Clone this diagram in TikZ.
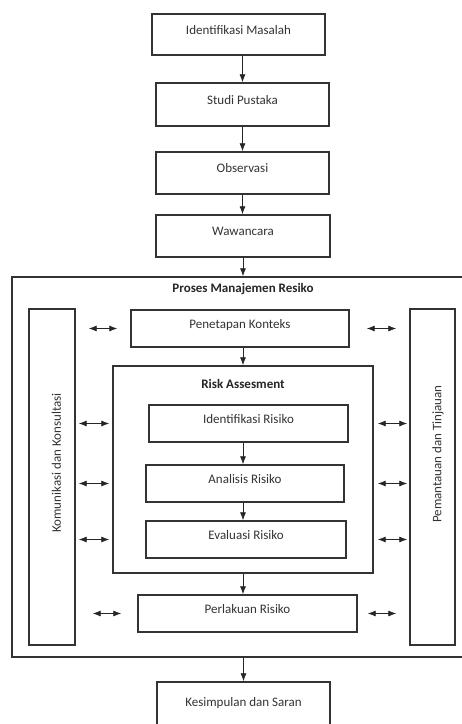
\documentclass[tikz,border=0pt]{standalone}
\usepackage{fontspec}
\setmainfont{Carlito}
\usetikzlibrary{arrows.meta}

\begin{document}
\begin{tikzpicture}
	[
	x=1pt, y=-1pt, font=\fontsize{13}{15}\selectfont, >={Latex[length=8pt,width=6pt]},
	%Voreinstellung für Kästen und Pfeile
	kasten/.style={draw=black!80, line width=1.4pt, text=black!80, text height=9pt, text depth=10pt, inner sep=0pt},
	titel/.style={text=black!85, font=\fontsize{13}{15}\selectfont\bfseries},
	senkrecht/.style={text=black!80, rotate=90},
	pfeil/.style={->, black!85, line width=0.8pt},
	doppelpfeil/.style={<->, black!85, line width=0.8pt}
	]
	
	%Hintergrund und Rand
	\fill [white] (0,0) rectangle (462,724);
	\useasboundingbox (0,0) rectangle (462,724);
	
	%Vorbereitung
	\node [kasten, minimum width=173pt, minimum height=41pt] (idm) at (238.5,34.5) {Identifikasi Masalah};
	\node [kasten, minimum width=173pt, minimum height=43pt] (stp) at (242.5,104.5) {Studi Pustaka};
	\node [kasten, minimum width=173pt, minimum height=42pt] (obs) at (242.5,173) {Observasi};
	\node [kasten, minimum width=174pt, minimum height=42pt] (waw) at (243,236) {Wawancara};
	
	%Proses Manajemen Resiko
	\node [kasten, minimum width=452pt, minimum height=380pt] (proses) at (238,467) {};
	\node [titel] (judul) at (243,289) {Proses Manajemen Resiko};
	\node [kasten, minimum width=46pt, minimum height=336pt] (kom) at (52,477) {};
	\node [kasten, minimum width=45pt, minimum height=336pt] (pt) at (432.5,477) {};
	\node [senkrecht] (komtext) at (56.5,463) {Komunikasi dan Konsultasi};
	\node [senkrecht] (pttext) at (438,454) {Pemantauan dan Tinjauan};
	\node [kasten, minimum width=218pt, minimum height=37pt] (pk) at (240,328.5) {Penetapan Konteks};
	
	%Risk Assesment
	\node [kasten, minimum width=260pt, minimum height=207pt] (ra) at (243,469.5) {};
	\node [titel] (ratitel) at (243,384) {Risk Assesment};
	\node [kasten, minimum width=199pt, minimum height=37pt] (idr) at (248.5,423.5) {Identifikasi Risiko};
	\node [kasten, minimum width=198pt, minimum height=37pt] (ana) at (245,483.5) {Analisis Risiko};
	\node [kasten, minimum width=200pt, minimum height=37pt] (eva) at (246,539.5) {Evaluasi Risiko};
	
	\node [kasten, minimum width=219pt, minimum height=37pt] (pr) at (247.5,613.5) {Perlakuan Risiko};
	\node [kasten, minimum width=173pt, minimum height=50pt] (kes) at (243.5,707) {Kesimpulan dan Saran};
	
	%Pfeile nach unten
	\draw [pfeil] (stp.north |- idm.south) -- (stp.north);
	\draw [pfeil] (stp.south) -- (obs.north);
	\draw [pfeil] (obs.south) -- (obs.south |- waw.north);
	\draw [pfeil] (waw.south) -- (waw.south |- proses.north);
	\draw [pfeil] (ra.north |- pk.south) -- (ra.north);
	\draw [pfeil] (ra.north |- idr.south) -- (ra.north |- ana.north);
	\draw [pfeil] (ra.north |- ana.south) -- (ra.north |- eva.north);
	\draw [pfeil] (ra.south) -- (ra.south |- pr.north);
	\draw [pfeil] (kes.north |- proses.south) -- (kes.north);
	
	%Doppelpfeile links und rechts
	\draw [doppelpfeil, shorten <=13pt, shorten >=13pt] (kom.east |- pk) -- (pk.west);
	\draw [doppelpfeil, shorten <=17pt, shorten >=13pt] (pk.east) -- (pt.west |- pk);
	\foreach \k in {idr,ana,eva}
	{
	\draw [doppelpfeil, shorten <=3pt, shorten >=3pt] (kom.east |- \k) -- (ra.west |- \k);
	\draw [doppelpfeil, shorten <=4pt, shorten >=2pt] (ra.east |- \k) -- (pt.west |- \k);
	}
	\draw [doppelpfeil, shorten <=17pt, shorten >=16pt] (kom.east |- pr) -- (pr.west);
	\draw [doppelpfeil, shorten <=10pt, shorten >=13pt] (pr.east) -- (pt.west |- pr);
\end{tikzpicture}
\end{document}
